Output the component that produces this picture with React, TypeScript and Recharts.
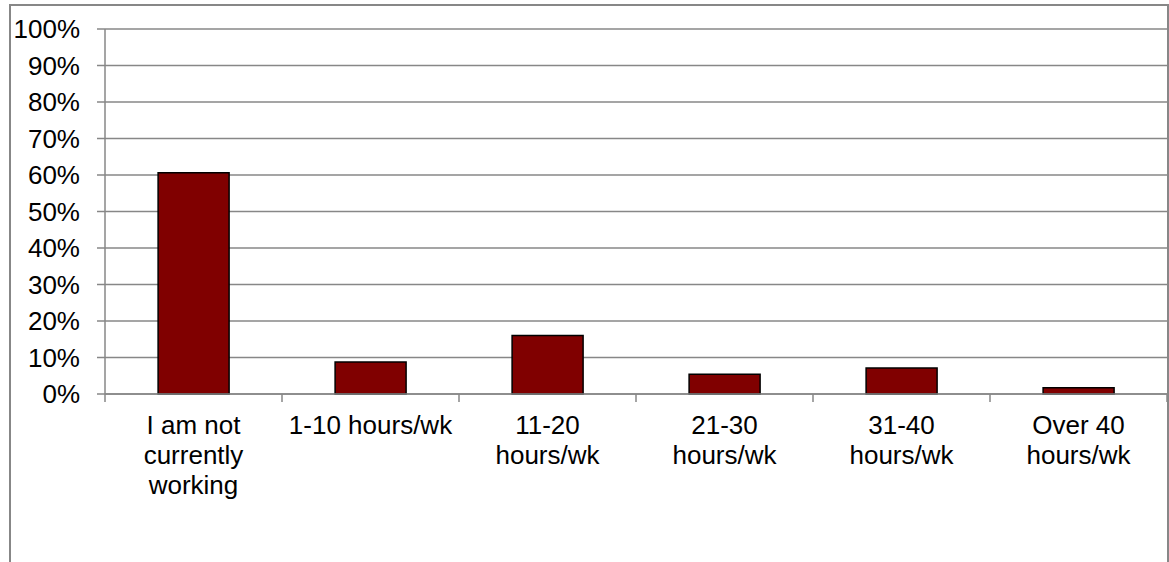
import { BarChart, Bar, XAxis, YAxis, CartesianGrid } from "recharts";

const categories = [
  "I am not\ncurrently\nworking",
  "1-10 hours/wk",
  "11-20\nhours/wk",
  "21-30\nhours/wk",
  "31-40\nhours/wk",
  "Over 40\nhours/wk",
];
const shares = [0.606, 0.088, 0.16, 0.054, 0.071, 0.017];
const yTicks = [0, 0.1, 0.2, 0.3, 0.4, 0.5, 0.6, 0.7, 0.8, 0.9, 1];

const data = categories.map((name, i) => ({ name, value: shares[i] }));

const W = 1169;
const H = 562;
const MARGIN = { top: 29, right: 2, bottom: 8, left: 5 };
const Y_AXIS_W = 100;
const GRAY = "#878787";
const FONT = "'Liberation Sans', Arial, sans-serif";
const FONT_SIZE = 26;

const plotWidth = W - MARGIN.left - MARGIN.right - Y_AXIS_W;
const bandWidth = plotWidth / categories.length;

function CategoryTick(props: any) {
  const { x, y, payload, index } = props;
  const lines = String(payload.value).split("\n");
  const left = x - bandWidth / 2;
  return (
    <g>
      <line x1={left} y1={y} x2={left} y2={y + 8} stroke={GRAY} strokeWidth={1.5} />
      {index === categories.length - 1 && (
        <line x1={left + bandWidth} y1={y} x2={left + bandWidth} y2={y + 8} stroke={GRAY} strokeWidth={1.5} />
      )}
      <text x={x} y={y} textAnchor="middle" fill="#000" fontSize={FONT_SIZE} fontFamily={FONT}>
        {lines.map((l, i) => (
          <tspan key={i} x={x} y={y + 40 + i * 30}>
            {l}
          </tspan>
        ))}
      </text>
    </g>
  );
}

export default function App() {
  return (
    <div style={{ position: "absolute", left: 0, top: 0, width: W, height: H, overflow: "hidden", background: "#fff" }}>
      <div
        style={{
          position: "absolute",
          left: 9,
          top: 4,
          width: 1160,
          height: 700,
          boxSizing: "border-box",
          border: `2px solid ${GRAY}`,
        }}
      />
      <div style={{ position: "absolute", left: 0, top: 0 }}>
        <BarChart width={W} height={H} data={data} margin={MARGIN} barCategoryGap="30%">
          <CartesianGrid vertical={false} stroke={GRAY} strokeWidth={1.5} />
          <XAxis
            dataKey="name"
            interval={0}
            height={160}
            tickLine={false}
            tickSize={0}
            tickMargin={0}
            axisLine={{ stroke: GRAY, strokeWidth: 1.5 }}
            tick={<CategoryTick />}
          />
          <YAxis
            width={Y_AXIS_W}
            domain={[0, 1]}
            ticks={yTicks}
            interval={0}
            tickFormatter={(v: number) => `${Math.round(v * 100)}%`}
            tickSize={8}
            tickMargin={17}
            tickLine={{ stroke: GRAY, strokeWidth: 1.5 }}
            axisLine={{ stroke: GRAY, strokeWidth: 1.5 }}
            tick={{ fill: "#000", fontSize: FONT_SIZE, fontFamily: FONT }}
          />
          <Bar dataKey="value" fill="#800000" stroke="#000" strokeWidth={1.5} isAnimationActive={false} />
        </BarChart>
      </div>
    </div>
  );
}
